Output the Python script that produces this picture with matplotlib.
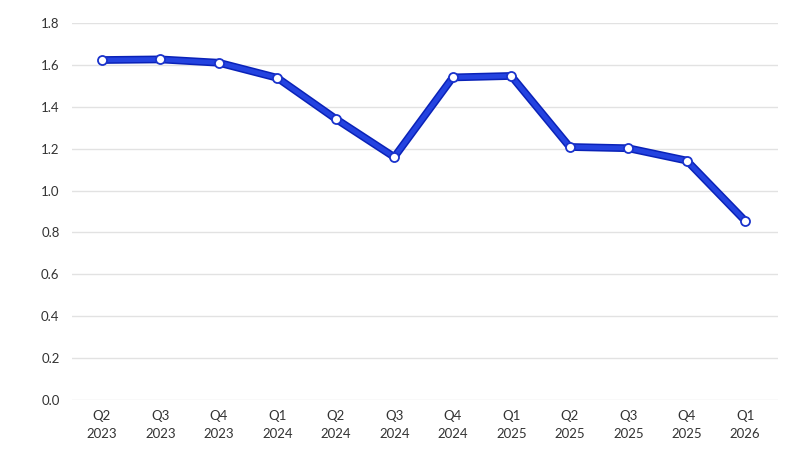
import matplotlib
matplotlib.use("Agg")
import matplotlib.pyplot as plt

quarters = ["Q2\n2023", "Q3\n2023", "Q4\n2023", "Q1\n2024", "Q2\n2024", "Q3\n2024",
            "Q4\n2024", "Q1\n2025", "Q2\n2025", "Q3\n2025", "Q4\n2025", "Q1\n2026"]
values = [1.623, 1.626, 1.61, 1.538, 1.342, 1.16, 1.54, 1.547, 1.208, 1.202, 1.143, 0.855]
yticks = [0.0, 0.2, 0.4, 0.6, 0.8, 1.0, 1.2, 1.4, 1.6, 1.8]

plt.rcParams['font.family'] = ['Lato', 'DejaVu Sans']

fig = plt.figure(figsize=(8, 4.5), dpi=100)
ax = fig.add_axes([0.09, 0.111, 0.8825, 0.838])

x = list(range(len(values)))
ax.plot(x, values, color="#0a22b8", linewidth=5.6, solid_capstyle="round", zorder=3)
ax.plot(x, values, color="#2443e0", linewidth=3.4, solid_capstyle="round", zorder=4)
ax.plot(x, values, linestyle="none", marker="o", markersize=6.5,
        markerfacecolor="white", markeredgecolor="#1a33cc", markeredgewidth=1.3, zorder=5)

ax.set_ylim(0, 1.8)
ax.set_xlim(-0.51, 11.56)
ax.set_yticks(yticks)
ax.set_yticklabels([f"{v:.1f}" for v in yticks])
ax.set_xticks(x)
ax.set_xticklabels(quarters, linespacing=1.6)
ax.grid(axis="y", color="#e2e2e2", linewidth=1)
ax.set_axisbelow(True)
for s in ax.spines.values():
    s.set_visible(False)
ax.tick_params(axis="both", length=0, labelsize=9.5, colors="#333333")
ax.tick_params(axis="y", pad=9)
ax.tick_params(axis="x", pad=7)

fig.savefig("out.png", dpi=100)
